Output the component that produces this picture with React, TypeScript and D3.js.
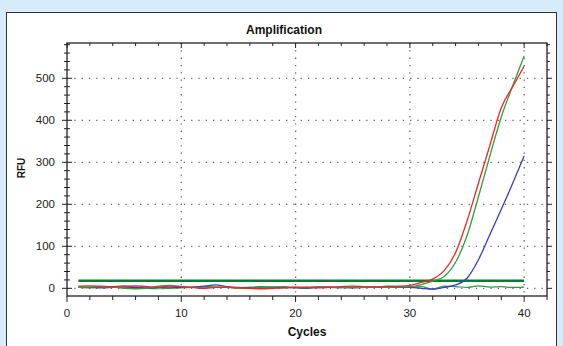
import React from "react";
import * as d3 from "d3";

const cycles = d3.range(1, 41);
const redRFU = [5,6,5,4,5,6,4,3,5,4,2,0,2,3,1,0,-1,0,1,2,3,1,2,4,5,4,3,4,5,7,14,22,42,85,160,250,340,430,480,529];
const greenRFU = [2,3,4,3,0,-1,0,5,7,4,2,1,3,2,1,0,2,3,4,2,1,3,2,1,3,2,3,2,3,4,9,17,28,62,125,218,315,408,482,553];
const blueRFU = [3,2,1,2,3,2,1,2,3,2,3,5,8,4,2,1,2,3,2,1,0,2,3,2,1,2,3,2,2,2,0,-2,2,8,24,68,128,188,250,315];
const ntcRFU = [2,1,3,4,5,3,0,-1,0,1,2,4,3,2,1,3,4,2,1,3,2,4,3,2,3,4,3,5,4,3,4,-2,5,4,2,6,3,4,2,3];
const thresholdRFU = 18;
const xTicks = [0, 10, 20, 30, 40];
const yTicks = [0, 100, 200, 300, 400, 500];

export default function App() {
  const W = 563, H = 346;
  const x = d3.scaleLinear().domain([0, 42]).range([67, 547]);
  const y = d3.scaleLinear().domain([-18.3, 584]).range([296, 43]);
  const line = (vals: number[]) =>
    d3.line<number>().curve(d3.curveMonotoneX).x((_, i) => x(cycles[i])).y((v) => y(v))(vals) || "";
  const minorX = d3.range(0, 43, 2);
  const minorY = d3.range(-20, 581, 20).filter((t) => y(t) <= 296);
  const font = "'Liberation Sans', Arial, sans-serif";
  return (
    <div style={{ position: "absolute", left: 0, top: 0 }}>
      <svg width={W} height={H} style={{ display: "block" }}>
        <rect x={0} y={0} width={W} height={H} fill="#d6ecfb" />
        <rect x={6.5} y={12.5} width={550} height={340} fill="#ffffff" stroke="#333" strokeWidth={1} />
        <text x={284} y={34} textAnchor="middle" fontFamily={font} fontWeight="bold" fontSize={12} fill="#111">Amplification</text>
        {xTicks.filter((t) => t > 0).map((t) => (
          <line key={"gx" + t} x1={x(t)} x2={x(t)} y1={43} y2={296} stroke="#666" strokeWidth={1.3} strokeDasharray="1.3 6" />
        ))}
        {yTicks.map((t) => (
          <line key={"gy" + t} x1={67} x2={547} y1={y(t)} y2={y(t)} stroke="#666" strokeWidth={1.3} strokeDasharray="1.3 6" />
        ))}
        <line x1={x(1)} x2={x(40)} y1={y(thresholdRFU)} y2={y(thresholdRFU)} stroke="#0a7a33" strokeWidth={2.6} />
        <path d={line(ntcRFU)} fill="none" stroke="#2e9a3e" strokeWidth={1.2} />
        <path d={line(blueRFU)} fill="none" stroke="#3a3ad0" strokeWidth={1.3} />
        <path d={line(greenRFU)} fill="none" stroke="#2ca03c" strokeWidth={1.3} />
        <path d={line(redRFU)} fill="none" stroke="#ff2222" strokeWidth={1.3} />
        <rect x={67} y={43} width={480} height={253} fill="none" stroke="#222" strokeWidth={1.3} />
        {minorX.map((t) => {
          const major = t % 10 === 0;
          return (
            <g key={"tx" + t}>
              <line x1={x(t)} x2={x(t)} y1={296} y2={296 + (major ? 6 : 4)} stroke="#222" />
              <line x1={x(t)} x2={x(t)} y1={43} y2={43 + (major ? 5 : 3)} stroke="#222" />
            </g>
          );
        })}
        {minorY.map((t) => {
          const major = t % 100 === 0;
          return (
            <g key={"ty" + t}>
              <line x1={67 - (major ? 5 : 3)} x2={67 + (major ? 5 : 3)} y1={y(t)} y2={y(t)} stroke="#222" />
              <line x1={547} x2={547 + (major ? 5 : 3)} y1={y(t)} y2={y(t)} stroke="#222" />
            </g>
          );
        })}
        {xTicks.map((t) => (
          <text key={"lx" + t} x={x(t)} y={317} textAnchor="middle" fontFamily={font} fontSize={11.5} fill="#222">{t}</text>
        ))}
        {yTicks.map((t) => (
          <text key={"ly" + t} x={55} y={y(t) + 4} textAnchor="end" fontFamily={font} fontSize={11.5} fill="#222">{t}</text>
        ))}
        <text x={307} y={336} textAnchor="middle" fontFamily={font} fontWeight="bold" fontSize={12} fill="#111">Cycles</text>
        <text transform={`translate(25,168) rotate(-90)`} textAnchor="middle" fontFamily={font} fontWeight="bold" fontSize={10} fill="#111">RFU</text>
      </svg>
    </div>
  );
}
